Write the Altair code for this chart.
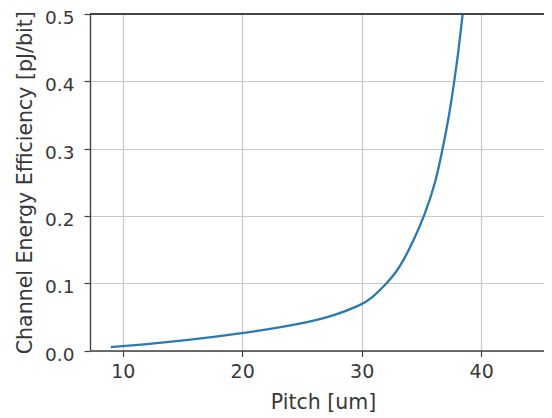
import altair as alt
import pandas as pd

pitch = [9.0, 11.7, 15.0, 20.0, 24.8, 27.6, 30.0, 30.8, 32.1, 32.8, 33.6, 34.3, 35.25, 36.2, 36.78, 37.33, 37.75, 38.14, 38.45]
efficiency = [0.005, 0.009, 0.0145, 0.0254, 0.039, 0.051, 0.068, 0.077, 0.1, 0.114, 0.137, 0.162, 0.2, 0.25, 0.3, 0.35, 0.4, 0.45, 0.5]
x_ticks = [10, 20, 30, 40]
y_ticks = [0.0, 0.1, 0.2, 0.3, 0.4, 0.5]

df = pd.DataFrame({"pitch": pitch, "eff": efficiency})

FONT = "DejaVu Sans"
TXT = "#383838"
AX = "#444444"
x_scale = alt.Scale(domain=[7.26, 45.26], nice=False, zero=False)
y_scale = alt.Scale(domain=[0, 0.5], nice=False)

line = alt.Chart(df).mark_line(color="#2a7ab0", strokeWidth=2.3, interpolate="basis", clip=True).encode(
    x=alt.X("pitch:Q", scale=x_scale, title="Pitch [um]",
            axis=alt.Axis(values=x_ticks, format="d", grid=True, gridColor="#c8c8c8", gridWidth=1.2,
                          domainColor=AX, domainWidth=1.4, tickColor=AX, tickSize=6, tickWidth=1.2,
                          labelFont=FONT, labelFontSize=19, labelColor=TXT, labelPadding=6,
                          titleFont=FONT, titleFontSize=20.5, titleFontWeight="normal", titleColor=TXT,
                          titlePadding=11, titleX=233, titleAnchor="start", titleAlign="center")),
    y=alt.Y("eff:Q", scale=y_scale, title="Channel Energy Efficiency [pJ/bit]",
            axis=alt.Axis(values=y_ticks, format=".1f", grid=True, gridColor="#c8c8c8", gridWidth=1.2,
                          domainColor=AX, domainWidth=1.4, tickColor=AX, tickSize=6, tickWidth=1.2,
                          labelFont=FONT, labelFontSize=18.5, labelColor=TXT, labelPadding=10, labelOffset=3.5,
                          titleFont=FONT, titleFontSize=20.5, titleFontWeight="normal", titleColor=TXT,
                          titlePadding=9)),
)

top_border = alt.Chart(df).mark_rule(color=AX, strokeWidth=1.4).encode(y=alt.datum(0.5))

chart = alt.layer(line, top_border).properties(
    width=454, height=336.5,
    autosize=alt.AutoSizeParams(type="none"),
    padding={"left": 82, "top": 6, "right": 0, "bottom": 66},
).configure_view(stroke=None).configure(background="white")

chart.save("out.html", embed_options={"renderer": "svg", "actions": False})
